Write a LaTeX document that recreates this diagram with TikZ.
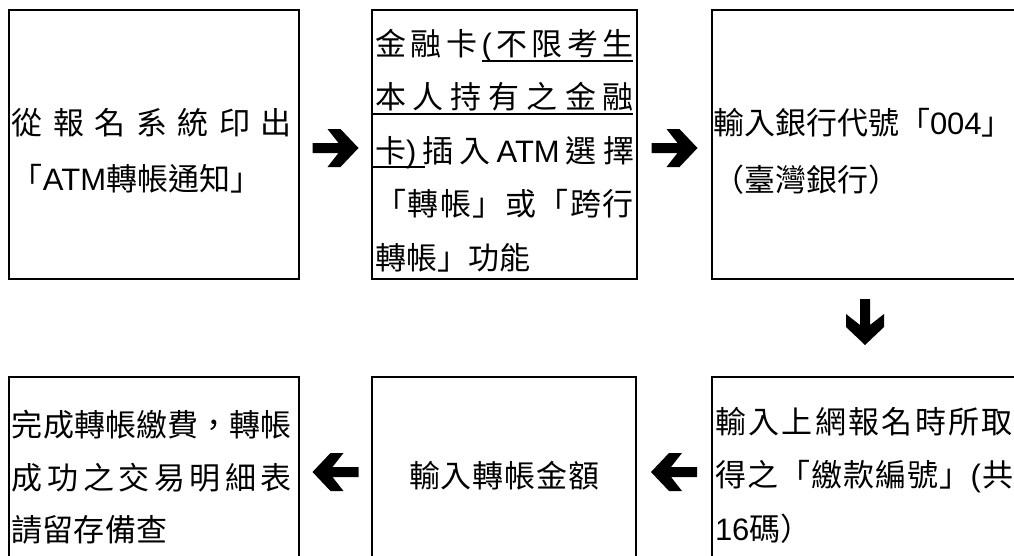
\documentclass[tikz,border=0pt]{standalone}
\usepackage{fontspec}
\setmainfont{Noto Sans CJK TC}
\newfontfamily\lat{Liberation Sans}
\usetikzlibrary{calc}
\tikzset{
  stepbox/.style={draw, line width=1.6pt, rectangle, anchor=north west, inner sep=0pt, outer sep=0pt},
  ln/.style={anchor=base west, inner sep=0pt, outer sep=0pt, font=\fontsize{31}{36}\selectfont},
  lnc/.style={ln, anchor=base},
  uline/.style={line width=1.5pt},
  blockarrow/.pic={\fill[black] (23,0) -- (5,-19) -- (-8,-19) -- (3,-5) -- (-23,-5) -- (-23,5) -- (3,5) -- (-8,19) -- (5,19) -- cycle;}
}
\begin{document}
\begin{tikzpicture}[x=1pt,y=-1pt]
\useasboundingbox (0,0) rectangle (1014,555);
\clip (0,0) rectangle (1014,555);
% boxes
\node[stepbox, minimum width=290pt, minimum height=269pt] (b1) at (9,10) {};
\node[stepbox, minimum width=265pt, minimum height=269pt] (b2) at (372,10) {};
\node[stepbox, minimum width=320pt, minimum height=269pt] (b3) at (712,10) {};
\node[stepbox, minimum width=320pt, minimum height=190pt] (b4) at (712,377) {};
\node[stepbox, minimum width=264pt, minimum height=190pt] (b5) at (372,377) {};
\node[stepbox, minimum width=290pt, minimum height=190pt] (b6) at (9,377) {};
% box 1
\node[ln] (t1a) at (12,134.5) {\makebox[280pt][s]{從\hfill 報\hfill 名\hfill 系\hfill 統\hfill 印\hfill 出}};
\node[ln] (t1b) at (12,190.5) {「{\lat ATM}轉帳通知」};
% box 2
\node[ln] (t2a) at (375,55) {\makebox[259pt][s]{金\hfill 融\hfill 卡\hfill{\lat (}\hfill 不\hfill 限\hfill 考\hfill 生}};
\node[ln] (t2b) at (375,108.5) {\makebox[259pt][s]{本\hfill 人\hfill 持\hfill 有\hfill 之\hfill 金\hfill 融}};
\node[ln] (t2c) at (375,162) {\makebox[259pt][s]{卡{\lat )}\hfill 插\hfill 入\hfill{\lat ATM}\hfill 選\hfill 擇}};
\node[ln] (t2d) at (375,215.5) {\makebox[259pt][s]{「\hfill 轉\hfill 帳\hfill 」\hfill 或\hfill 「\hfill 跨\hfill 行}};
\node[ln] (t2e) at (375,269) {轉帳」功能};
\draw[uline] (482,61) -- (633,61);
\draw[uline] (372,114) -- (633,114);
\draw[uline] (372,167) -- (425,167);
% box 3
\node[ln] (t3a) at (713,134.5) {輸入銀行代號「{\lat 004}」};
\node[ln] (t3b) at (713,191) {（臺灣銀行）};
% box 4
\node[ln] (t4a) at (715,433.5) {\makebox[298pt][s]{輸\hfill 入\hfill 上\hfill 網\hfill 報\hfill 名\hfill 時\hfill 所\hfill 取}};
\node[ln] (t4b) at (715,486.5) {\makebox[298pt][s]{得\hfill 之\hfill 「\hfill 繳\hfill 款\hfill 編\hfill 號\hfill 」{\lat (}\hfill 共}};
\node[ln] (t4c) at (715,540.5) {{\lat 16}碼）};
% box 5
\node[lnc] (t5) at (504,487.5) {\makebox[190pt][s]{輸\hfill 入\hfill 轉\hfill 帳\hfill 金\hfill 額}};
% box 6
\node[ln] (t6a) at (12,436.5) {\makebox[280pt][s]{完\hfill 成\hfill 轉\hfill 帳\hfill 繳\hfill 費\hfill ，\hfill 轉\hfill 帳}};
\node[ln] (t6b) at (12,489.5) {\makebox[280pt][s]{成\hfill 功\hfill 之\hfill 交\hfill 易\hfill 明\hfill 細\hfill 表}};
\node[ln] (t6c) at (12,541.5) {請留存備查};
% arrows
\pic at ($(b1.east)!0.5!(b2.west)+(0,3.5)$) {blockarrow};
\pic at ($(b2.east)!0.5!(b3.west)+(0,3.5)$) {blockarrow};
\pic[rotate=-90] at ($(b3.south west)!0.5!(b4.north west)+(153,-6)$) {blockarrow};
\pic[rotate=180] at ($(b4.west)!0.5!(b5.east)$) {blockarrow};
\pic[rotate=180] at ($(b5.west)!0.5!(b6.east)$) {blockarrow};
\end{tikzpicture}
\end{document}
